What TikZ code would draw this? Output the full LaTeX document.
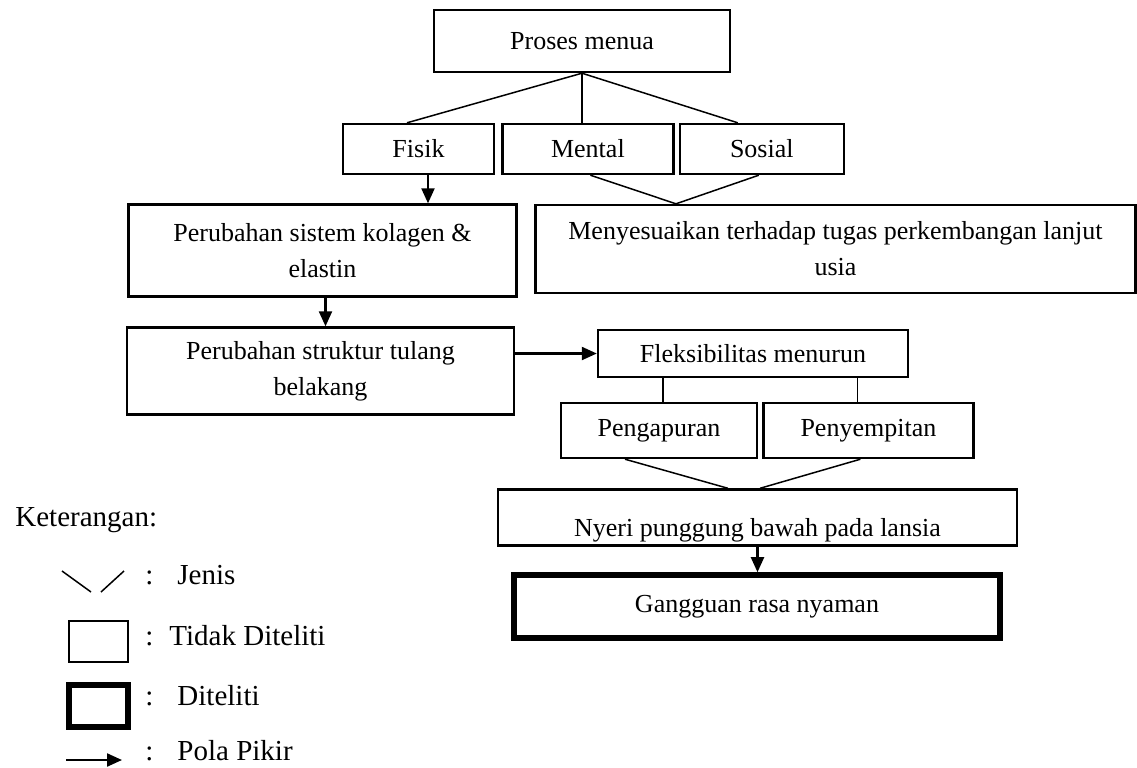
\documentclass[tikz,border=0pt]{standalone}
\usepackage{fontspec}
\setmainfont{Liberation Serif}
\usetikzlibrary{arrows.meta,positioning}
\tikzset{
  box/.style={draw, line width=1.2pt, align=center, inner sep=2pt, font=\fontsize{13}{18}\selectfont},
  boxthick/.style={box, line width=2.8pt},
  arr/.style={-{Triangle[length=7.5pt,width=6.5pt]}, line width=1.1pt},
  jenis/.style={line width=0.75pt},
  legtext/.style={inner sep=0pt, anchor=west, font=\fontsize{14.5}{18}\selectfont}
}

\begin{document}
\begin{tikzpicture}[x=0.5pt, y=-0.5pt]
\useasboundingbox (0,0) rectangle (1137,767);
\node[box, minimum width=148pt, minimum height=31pt] (proses) at (582,41) {Proses menua};
\node[box, minimum width=75.5pt, minimum height=25pt] (fisik) at (418.5,149) {Fisik};
\node[box, minimum width=85.5pt, minimum height=25pt, right=3pt of fisik] (mental) {Mental};
\node[box, minimum width=82pt, minimum height=25pt, right=2pt of mental] (sosial) {Sosial};

\draw[jenis] (proses.south) -- ([xshift=-5.75pt]fisik.north);
\draw[jenis] (proses.south) -- (proses.south |- mental.north);
\draw[jenis] (proses.south) -- ([xshift=-12pt]sosial.north);

\node[box, minimum width=194pt, minimum height=46pt] (kolagen) at (322.5,250.5) {Perubahan sistem kolagen \&\\elastin};
\node[box, minimum width=300pt, minimum height=44pt] (tugas) at (835.5,249) {Menyesuaikan terhadap tugas perkembangan lanjut\\usia};
\draw[arr] ([xshift=4.75pt]fisik.south) -- ([xshift=4.75pt]fisik.south |- kolagen.north);
\coordinate (gabung) at ([xshift=-79.75pt]tugas.north);
\draw[jenis] ([xshift=1.25pt]mental.south) -- (gabung) -- ([xshift=-1.5pt]sosial.south);

\node[box, minimum width=193.5pt, minimum height=43.5pt] (tulang) at (320.5,371) {Perubahan struktur tulang\\belakang};
\draw[arr] ([xshift=1.5pt]kolagen.south) -- ([xshift=1.5pt]kolagen.south |- tulang.north);

\node[box, minimum width=155pt, minimum height=23.5pt] (fleks) at (753,353.5) {Fleksibilitas menurun};
\draw[arr] (tulang.east |- fleks.west) -- (fleks.west);

\node[box, minimum width=98pt, minimum height=27.5pt] (kapur) at (659,430.5) {Pengapuran};
\node[box, minimum width=105pt, minimum height=27.5pt, right=2pt of kapur] (sempit) {Penyempitan};
\draw[jenis] ([xshift=2pt]kapur.north) -- ([xshift=2pt]kapur.north |- fleks.south);
\draw[jenis] ([xshift=-5.5pt]sempit.north) -- ([xshift=-5.5pt]sempit.north |- fleks.south);

\node[box, minimum width=259.5pt, text height=21.5pt, text depth=2.5pt] (nyeri) at (757.5,517.5) {Nyeri punggung bawah pada lansia};
\draw[jenis] ([xshift=-17pt]kapur.south) -- ([xshift=-14.75pt]nyeri.north);
\draw[jenis] ([xshift=-4pt]sempit.south) -- ([xshift=1.25pt]nyeri.north);

\node[boxthick, minimum width=243pt, minimum height=31.5pt] (nyaman) at (757,606.5) {Gangguan rasa nyaman};
\draw[arr] (nyeri.south) -- (nyeri.south |- nyaman.north);

% keterangan
\node[legtext] (ket) at (15,520) {Keterangan:};
\coordinate (j1) at (62,571);
\coordinate (j2) at (91,592);
\coordinate (j3) at (101,592);
\coordinate (j4) at (124,571);
\draw[jenis] (j1) -- (j2);
\draw[jenis] (j3) -- (j4);
\node[legtext] (ljenis) at (145,575) {:\hspace{12pt}Jenis};
\node[box, minimum width=29.5pt, minimum height=20.5pt] (ltidak) at (98.5,641.5) {};
\node[legtext] (ltidakteks) at (145,636) {:\hspace{8pt}Tidak Diteliti};
\node[boxthick, minimum width=29.5pt, minimum height=21pt] (lteliti) at (98.5,706) {};
\node[legtext] (ltelititeks) at (145,696) {:\hspace{12pt}Diteliti};
\coordinate (pa) at (66,760);
\coordinate (pb) at (122,760);
\draw[arr] (pa) -- (pb);
\node[legtext] (lpola) at (145,751) {:\hspace{12pt}Pola Pikir};
\end{tikzpicture}
\end{document}
